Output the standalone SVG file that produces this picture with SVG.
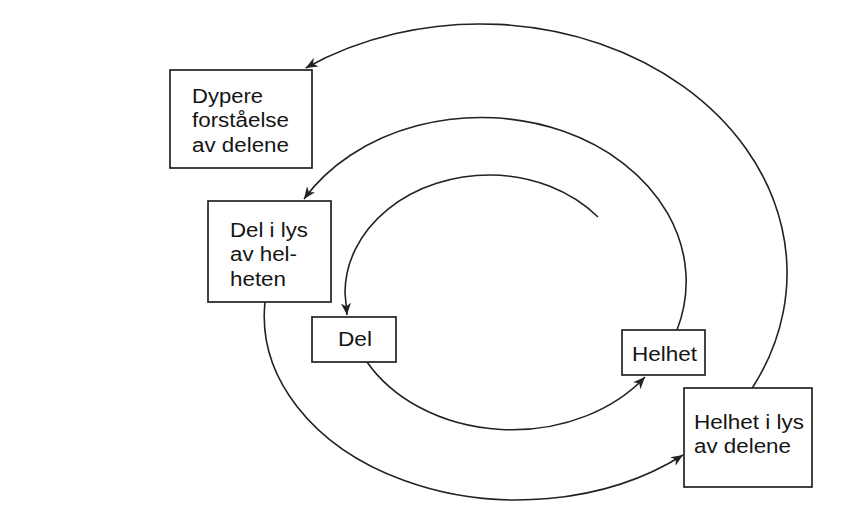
<svg xmlns="http://www.w3.org/2000/svg" width="862" height="511" viewBox="0 0 862 511">
<style>
.box{fill:#fff;stroke:#222;stroke-width:1.7}
.lbl{font-family:"Liberation Sans",Arial,sans-serif;font-size:20px;fill:#151515}
.arc{fill:none;stroke:#222;stroke-width:1.6;marker-end:url(#ah)}
</style>
<defs>
<marker id="ah" markerUnits="userSpaceOnUse" markerWidth="14" markerHeight="12" refX="12" refY="5" orient="auto" viewBox="0 0 14 12">
<path d="M0,0 L12,5 L0,10 L3.5,5 Z" fill="#222"/>
</marker>
</defs>
<rect width="862" height="511" fill="#fff"/>
<g id="connectors">
<path class="arc" d="M752.3,388 A307,249 0 0 0 305.7,68"/>
<path class="arc" d="M677,330 A205,164 0 0 0 304,199"/>
<path class="arc" d="M598,217 A145,125 0 0 0 490,175 A145,118 0 0 0 345,293 L347,315"/>
<path class="arc" d="M367,362 A165.7,131 0 0 0 645,377"/>
<path class="arc" d="M265,302 A253,184 0 0 0 683,455"/>
</g>
<g id="node-dypere">
<rect class="box" x="170" y="70" width="142" height="98"/>
<text class="lbl" x="192" y="103" textLength="71" lengthAdjust="spacingAndGlyphs">Dypere</text>
<text class="lbl" x="192" y="127" textLength="97" lengthAdjust="spacingAndGlyphs">forståelse</text>
<text class="lbl" x="192" y="151.5" textLength="97" lengthAdjust="spacingAndGlyphs">av delene</text>
</g>
<g id="node-del-i-lys">
<rect class="box" x="208" y="201" width="123" height="101"/>
<text class="lbl" x="230" y="237" textLength="78" lengthAdjust="spacingAndGlyphs">Del i lys</text>
<text class="lbl" x="230" y="261" textLength="67" lengthAdjust="spacingAndGlyphs">av hel-</text>
<text class="lbl" x="230" y="286" textLength="56" lengthAdjust="spacingAndGlyphs">heten</text>
</g>
<g id="node-del">
<rect class="box" x="312" y="317" width="84" height="45"/>
<text class="lbl" x="338" y="346" textLength="34" lengthAdjust="spacingAndGlyphs">Del</text>
</g>
<g id="node-helhet">
<rect class="box" x="622" y="330" width="83" height="45"/>
<text class="lbl" x="632" y="361" textLength="65" lengthAdjust="spacingAndGlyphs">Helhet</text>
</g>
<g id="node-helhet-i-lys">
<rect class="box" x="684" y="388" width="128" height="99"/>
<text class="lbl" x="694" y="429" textLength="110" lengthAdjust="spacingAndGlyphs">Helhet i lys</text>
<text class="lbl" x="694" y="453" textLength="97" lengthAdjust="spacingAndGlyphs">av delene</text>
</g>
</svg>
